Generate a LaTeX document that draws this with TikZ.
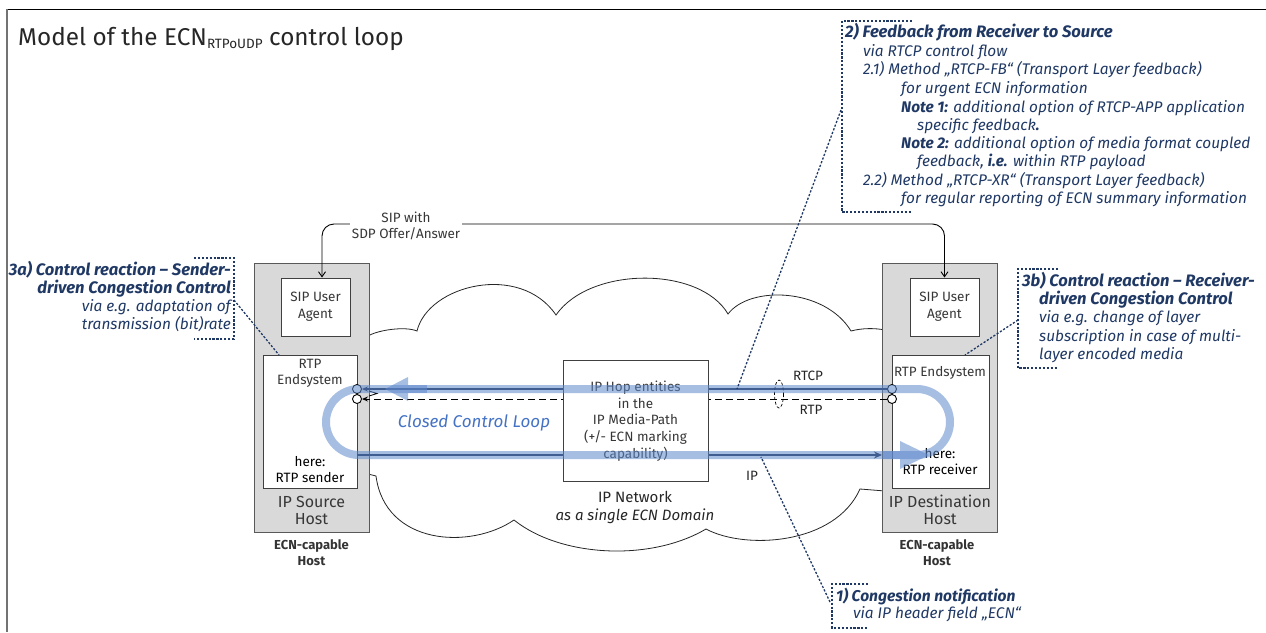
\documentclass[tikz,border=0pt]{standalone}
\usepackage{fontspec}
\setmainfont{Fira Sans}
\usetikzlibrary{arrows.meta}
\definecolor{navy}{RGB}{31,56,100}
\definecolor{linenavy}{RGB}{25,40,70}
\definecolor{loopblue}{RGB}{95,137,205}
\definecolor{txtgray}{RGB}{55,55,55}
\definecolor{hostfill}{RGB}{217,217,217}
\definecolor{ccl}{RGB}{68,114,196}
\begin{document}
\begin{tikzpicture}[x=1pt,y=-1pt,
  hostbox/.style={draw=black!65, fill=hostfill, line width=1pt, inner sep=0pt},
  wbox/.style={draw=black!75, fill=white, line width=1pt, inner sep=0pt},
  btxt/.style={font=\fontsize{13.5}{16}\selectfont, text=txtgray, inner sep=0pt, anchor=base},
  htxt/.style={font=\fontsize{16}{18}\selectfont, text=txtgray, inner sep=0pt, anchor=base},
  etxt/.style={font=\fontsize{13}{16}\selectfont\bfseries, text=black!80, inner sep=0pt, anchor=base},
  note/.style={font=\fontsize{15.4}{18}\selectfont\itshape, text=navy, inner sep=0pt, anchor=base west},
  noteb/.style={note, font=\fontsize{16.6}{18}\selectfont\bfseries\itshape},
  noter/.style={note, anchor=base east},
  noterb/.style={noteb, anchor=base east},
  callout/.style={draw=navy, line width=1.3pt, dash pattern=on 2.2pt off 1.7pt},
  band/.style={line width=8pt, draw=loopblue, opacity=0.55},
  bandfill/.style={fill=loopblue, opacity=0.55},
  port/.style={circle, draw=black, fill=white, line width=0.9pt, minimum size=9pt, inner sep=0pt},
]
\useasboundingbox (0,0) rectangle (1266,632);
% frame
\draw[black, line width=1pt] (7,9) -- (1266,9);
\draw[black!55, line width=2pt] (7,9) -- (7,632);

% title
\node[anchor=base west, inner sep=0pt, font=\fontsize{24.3}{27}\selectfont, text=black!85] (title) at (18,45)
  {Model of the ECN\raisebox{-3pt}{\fontsize{13.5}{14}\selectfont RTPoUDP} control loop};

% cloud
\draw[fill=white, line width=0.8pt, draw=black!85] (368,336)
 .. controls (378,330) and (405,326) .. (417,331)
 .. controls (428,285) and (520,262) .. (556,315)
 .. controls (590,266) and (700,266) .. (728,314)
 .. controls (750,285) and (825,288) .. (851,331)
 .. controls (862,328) and (875,328) .. (885,330)
 -- (885,491) -- (860,489)
 .. controls (835,545) and (745,550) .. (706,529)
 .. controls (650,562) and (560,557) .. (514,520)
 .. controls (470,550) and (385,545) .. (376,476)
 -- (368,474) -- cycle;

% hosts
\node[hostbox, minimum width=115pt, minimum height=269pt] (hostL) at (311.5,397.5) {};
\node[hostbox, minimum width=115pt, minimum height=269pt] (hostR) at (939.5,397.5) {};
\node[wbox, minimum width=69pt, minimum height=58pt] (sipL) at (315.5,307) {};
\node[wbox, minimum width=69pt, minimum height=58pt] (sipR) at (944.5,307) {};
\node[wbox, minimum width=94pt, minimum height=133pt] (rtpL) at (310,421.5) {};
\node[wbox, minimum width=97pt, minimum height=133pt] (rtpR) at (940.5,421.5) {};

% host texts
\node[btxt] (sipL1) at (315.5,301.5) {SIP User};
\node[btxt] (sipL2) at (315.5,318.5) {Agent};
\node[btxt] (sipR1) at (944.5,301.5) {SIP User};
\node[btxt] (sipR2) at (944.5,318.5) {Agent};
\node[btxt] (rtpL1) at (310,368.5) {RTP};
\node[btxt] (rtpL2) at (310,384.5) {Endsystem};
\node[btxt, text=black] (rtpL3) at (310,466.5) {here:};
\node[btxt, text=black] (rtpL4) at (310,482.5) {RTP sender};
\node[btxt] (rtpR1) at (940,376.5) {RTP Endsystem};
\node[btxt, text=black] (rtpR3) at (940,458) {here:};
\node[btxt, text=black] (rtpR4) at (940,474.5) {RTP receiver};
\node[htxt] (hostL1) at (311.5,507) {IP Source};
\node[htxt] (hostL2) at (311.5,524) {Host};
\node[htxt] (hostR1) at (940,507) {IP Destination};
\node[htxt] (hostR2) at (940,524) {Host};
\node[etxt] (ecnL1) at (311.5,549.5) {ECN-capable};
\node[etxt] (ecnL2) at (311.5,565.5) {Host};
\node[etxt] (ecnR1) at (937,549.5) {ECN-capable};
\node[etxt] (ecnR2) at (937,565.5) {Host};

% SIP signalling
\coordinate (sipy) at (600,224);
\draw[line width=0.9pt, rounded corners=12pt, {Straight Barb[length=5pt,width=7pt]}-{Straight Barb[length=5pt,width=7pt]}]
  ([xshift=6.5pt]sipL.north) -- ([xshift=6.5pt]sipL.north |- sipy) -- (sipR.north |- sipy) -- (sipR.north);
\node[fill=white, inner sep=1.5pt, align=center, font=\fontsize{13.5}{16}\selectfont, text=txtgray] (siplab) at (406,225.5) {SIP with\\SDP Offer/Answer};

% ports
\node[port] (cL1) at (357,389) {};
\node[port] (cL2) at (357,399) {};
\node[port] (cR1) at (892,389) {};
\node[port] (cR2) at (892,399) {};
\coordinate (ipL) at (357,455);
\coordinate (ipR) at (882,455);

% media lines
\draw[linenavy, line width=1.8pt, -{Stealth[length=6pt,width=5pt]}] (cR1) -- (cL1);
\draw[black, line width=1pt, dash pattern=on 7pt off 4pt, -{Stealth[length=6pt,width=5pt]}] (cR2) -- (cL2);
\draw[linenavy, line width=2pt, -{Stealth[length=8pt,width=7pt]}] (ipL) -- (ipR);
\draw[black, line width=0.8pt] (369,391) -- (377,393.5) -- (369,396);

% IP hop box
\node[wbox, minimum width=145pt, minimum height=121pt] (hop) at (635.5,420.5) {};
\node[btxt] (hop1) at (635.5,391.5) {IP Hop entities};
\node[btxt] (hop2) at (635.5,408) {in the};
\node[btxt] (hop3) at (635.5,424.5) {IP Media-Path};
\node[btxt] (hop4) at (635.5,441.5) {(+/- ECN marking};
\node[btxt] (hop5) at (635.5,458) {capability)};

% line labels
\node[btxt, text=black!85] (lrtcp) at (808,380) {RTCP};
\node[btxt, text=black!85] (lrtp) at (811,414.5) {RTP};
\node[btxt, text=black!85] (lip) at (752,480) {IP};
\draw[black, line width=0.7pt, dash pattern=on 3pt off 2pt] (779,394) ellipse [x radius=4.5, y radius=14];

% network label
\node[font=\fontsize{15}{18}\selectfont, text=black!85, inner sep=0pt, anchor=base] (net1) at (635,502) {IP Network};
\node[font=\fontsize{15}{18}\selectfont\itshape, text=black!85, inner sep=0pt, anchor=base] (net2) at (635,520.5) {as a single ECN Domain};

% closed control loop band
\draw[band] (359,389) -- (917,389) arc[start angle=-90, end angle=90, radius=33] -- (359,455) arc[start angle=90, end angle=270, radius=33] -- cycle;
\fill[bandfill] (385,389) -- (408,377) -- (408,401) -- cycle;
\draw[band] (408,389) -- (427,389);
\fill[bandfill] (929,455) -- (900,441) -- (900,469) -- cycle;
\draw[band] (883,455) -- (900,455);
\node[font=\fontsize{17}{20}\selectfont\itshape, text=ccl, inner sep=0pt] (cclab) at (474,423) {Closed Control Loop};

% callout 2
\draw[callout] (912,21) -- (842,21) -- (842,212) -- (912,212);
\coordinate (fbk) at (841,110);
\coordinate (fbt) at (737,389);
\draw[callout] (fbk) -- (fbt);
\node[noteb] (fb1) at (845,37.5) {2) Feedback from Receiver to Source};
\node[note] (fb2) at (863,56.5) {via RTCP control flow};
\node[note] (fb3) at (863,74.5) {2.1) Method „RTCP-FB“ (Transport Layer feedback)};
\node[note] (fb4) at (901,93.5) {for urgent ECN information};
\node[note] (fb5) at (901,112.5) {\textbf{Note 1:} additional option of RTCP-APP application};
\node[note] (fb6) at (917,130.5) {specific feedback\textbf{.}};
\node[note] (fb7) at (901,148.5) {\textbf{Note 2:} additional option of media format coupled};
\node[note] (fb8) at (917,166.5) {feedback, \textbf{i.e.} within RTP payload};
\node[note] (fb9) at (863,185.5) {2.2) Method „RTCP-XR“ (Transport Layer feedback)};
\node[note] (fb10) at (901,203.5) {for regular reporting of ECN summary information};

% callout 3a
\draw[callout] (194,258) -- (234,258) -- (234,339) -- (194,339);
\coordinate (sak) at (234,300);
\coordinate (sat) at (279,355);
\draw[callout] (sak) -- (sat);
\node[noterb] (sa1) at (231,275.5) {3a) Control reaction – Sender-};
\node[noterb] (sa2) at (231,293.5) {driven Congestion Control};
\node[noter] (sa3) at (231,311.5) {via e.g. adaptation of};
\node[noter] (sa4) at (231,329.5) {transmission (bit)rate};

% callout 3b
\draw[callout] (1058,269) -- (1018,269) -- (1018,368) -- (1058,368);
\coordinate (sbk) at (1018,320);
\coordinate (sbt) at (965,355);
\draw[callout] (sbk) -- (sbt);
\node[noteb] (sb1) at (1022,286.5) {3b) Control reaction – Receiver-};
\node[noteb] (sb2) at (1039,304.5) {driven Congestion Control};
\node[note] (sb3) at (1039,322.5) {via e.g. change of layer};
\node[note] (sb4) at (1039,341.5) {subscription in case of multi-};
\node[note] (sb5) at (1039,359.5) {layer encoded media};

% callout 1
\draw[callout] (868,584) -- (832,584) -- (832,628) -- (868,628);
\coordinate (cnk) at (830,602);
\coordinate (cnt) at (761,457);
\draw[callout] (cnk) -- (cnt);
\node[note, font=\fontsize{15.6}{18}\selectfont\bfseries\itshape] (cn1) at (836,601.5) {1) Congestion notification};
\node[note] (cn2) at (853,618.5) {via IP header field „ECN“};
\end{tikzpicture}
\end{document}
